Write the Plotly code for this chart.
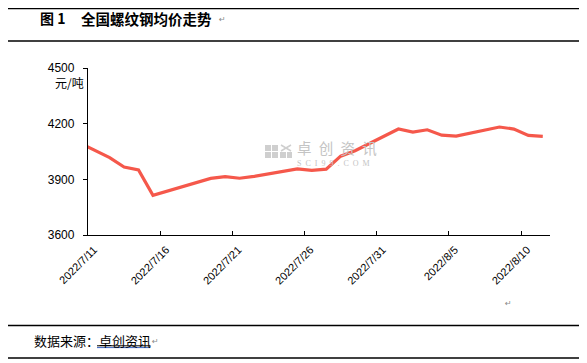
import plotly.graph_objects as go
import pandas as pd

# ---- data ----
dates = ["2022-07-08", "2022-07-11", "2022-07-12", "2022-07-13", "2022-07-14", "2022-07-15",
         "2022-07-18", "2022-07-19", "2022-07-20", "2022-07-21", "2022-07-22",
         "2022-07-25", "2022-07-26", "2022-07-27", "2022-07-28", "2022-07-29",
         "2022-08-01", "2022-08-02", "2022-08-03", "2022-08-04", "2022-08-05",
         "2022-08-08", "2022-08-09", "2022-08-10", "2022-08-11"]
prices = [4170, 4057, 4017, 3966, 3951, 3814,
          3884, 3905, 3915, 3906, 3916,
          3956, 3948, 3955, 4025, 4054,
          4171, 4155, 4167, 4138, 4133,
          4182, 4171, 4137, 4132]
tick_dates = ["2022-07-11", "2022-07-16", "2022-07-21", "2022-07-26", "2022-07-31", "2022-08-05", "2022-08-10"]
tick_labels = ["2022/7/11", "2022/7/16", "2022/7/21", "2022/7/26", "2022/7/31", "2022/8/5", "2022/8/10"]
y_ticks = [3600, 3900, 4200, 4500]
title_num = "图 1"
title_text = "全国螺纹钢均价走势"
unit_text = "元/吨"
source_label = "数据来源："
source_name = "卓创资讯"
watermark_cn = "卓创资讯"
watermark_en = "SCI99.COM"

# ---- geometry (page pixels; the page body adds an 8px margin) ----
O = 8
PAGE_W, PAGE_H = 587, 363
W, H = PAGE_W - O, PAGE_H - O
L, R, T, B = 88, 550, 68, 235
PW, PH = R - L, B - T


def px(x):
    return (x - L) / PW


def py(y):
    return (B - y) / PH


# points plotted at day centres (Excel "between tick marks" date axis)
x_vals = pd.to_datetime(dates) + pd.Timedelta(hours=12)

fig = go.Figure()
fig.add_trace(go.Scatter(
    x=x_vals, y=prices, mode="lines",
    line=dict(color="#F5584B", width=3.2),
    hoverinfo="x+y", showlegend=False,
))

cjk = "Noto Sans CJK SC"
latin = "Liberation Sans, Arial"

fig.update_layout(
    width=W, height=H,
    margin=dict(l=L - O, r=PAGE_W - R, t=T - O, b=PAGE_H - B, pad=0),
    paper_bgcolor="white", plot_bgcolor="white",
    font=dict(family=latin, size=12, color="black"),
    xaxis=dict(
        type="date", range=["2022-07-11", "2022-08-12"],
        tickmode="array", tickvals=tick_dates, ticktext=tick_labels,
        tickangle=-45, ticks="inside", ticklen=4, tickwidth=1, tickcolor="black",
        showline=True, linecolor="black", linewidth=1.3,
        showgrid=False, zeroline=False,
        tickfont=dict(family=latin, size=11, color="black"),
        ticklabelshift=6, ticklabelstandoff=3,
    ),
    yaxis=dict(
        range=[3600, 4500], tickmode="array", tickvals=y_ticks,
        ticks="outside", ticklen=4, tickwidth=1, tickcolor="black",
        showline=True, linecolor="black", linewidth=1.3,
        showgrid=False, zeroline=False,
        tickfont=dict(family=latin, size=12, color="black"),
        ticklabelstandoff=6,
    ),
)

EN = "\u2002"
wm_cn = EN.join(list(watermark_cn))
wm_en = EN.join(list(watermark_en))

ann = []
# title
ann.append(dict(x=px(38), y=py(18), xref="paper", yref="paper", xanchor="left", yanchor="middle",
                text="<b>" + title_num + "</b>", showarrow=False,
                font=dict(family=cjk, size=14, color="black")))
ann.append(dict(x=px(79), y=py(18), xref="paper", yref="paper", xanchor="left", yanchor="middle",
                text="<b>" + title_text + "</b>", showarrow=False,
                font=dict(family=cjk, size=14.5, color="black")))
ann.append(dict(x=px(217), y=py(19), xref="paper", yref="paper", xanchor="left", yanchor="middle",
                text="↵", showarrow=False, font=dict(family="DejaVu Sans", size=8, color="#888")))
# unit
ann.append(dict(x=px(86), y=py(82), xref="paper", yref="paper", xanchor="right", yanchor="middle",
                text=unit_text, showarrow=False, font=dict(family=cjk, size=12, color="black")))
# watermark (one block, two lines; line spacing set by base font size)
ann.append(dict(x=px(295), y=py(152), xref="paper", yref="paper", xanchor="left", yanchor="middle",
                align="left",
                text="<span style='font-size:14.5px'>" + wm_cn + "</span><br>"
                     "<span style='font-size:8px;font-family:Liberation Serif'>" + wm_en + "</span>",
                showarrow=False, font=dict(family=cjk, size=9, color="#c4c4c4")))
# misc paragraph marks
ann.append(dict(x=px(508), y=py(303), xref="paper", yref="paper", xanchor="center", yanchor="middle",
                text="↵", showarrow=False, font=dict(family="DejaVu Sans", size=8, color="#888")))
# source
ann.append(dict(x=px(32), y=py(340), xref="paper", yref="paper", xanchor="left", yanchor="middle",
                text=source_label, showarrow=False, font=dict(family=cjk, size=13, color="black")))
ann.append(dict(x=px(97), y=py(340), xref="paper", yref="paper", xanchor="left", yanchor="middle",
                text=source_name, showarrow=False, font=dict(family=cjk, size=13, color="black")))
ann.append(dict(x=px(150), y=py(341), xref="paper", yref="paper", xanchor="left", yanchor="middle",
                text="↵", showarrow=False, font=dict(family="DejaVu Sans", size=8, color="#888")))
fig.update_layout(annotations=ann)

shapes = []
for yy in (8.7, 41, 325.5, 358):
    shapes.append(dict(type="line", xref="paper", yref="paper", x0=px(0), x1=px(PAGE_W), y0=py(yy), y1=py(yy),
                       line=dict(color="black", width=1.3), layer="above"))
# underline of source name
shapes.append(dict(type="line", xref="paper", yref="paper", x0=px(97), x1=px(150), y0=py(345.8), y1=py(345.8),
                   line=dict(color="black", width=1)))
shapes.append(dict(type="line", xref="paper", yref="paper", x0=px(97), x1=px(150), y0=py(347.6), y1=py(347.6),
                   line=dict(color="#3a66c4", width=1)))
# watermark logo blocks
for (x0, y0, x1, y1) in [(265, 145, 271, 151), (272, 145, 278, 151), (265, 152, 271, 158), (272, 152, 278, 158),
                         (280, 152, 286, 158), (287, 152, 292, 158)]:
    shapes.append(dict(type="rect", xref="paper", yref="paper", x0=px(x0), x1=px(x1), y0=py(y0), y1=py(y1),
                       line=dict(width=0), fillcolor="#cfcfcf", layer="below"))
shapes.append(dict(type="line", xref="paper", yref="paper", x0=px(281), x1=px(291), y0=py(145), y1=py(151),
                   line=dict(color="#cfcfcf", width=1.5), layer="below"))
shapes.append(dict(type="line", xref="paper", yref="paper", x0=px(281), x1=px(291), y0=py(151), y1=py(145),
                   line=dict(color="#cfcfcf", width=1.5), layer="below"))
fig.update_layout(shapes=shapes)

fig.write_html("out.html")
